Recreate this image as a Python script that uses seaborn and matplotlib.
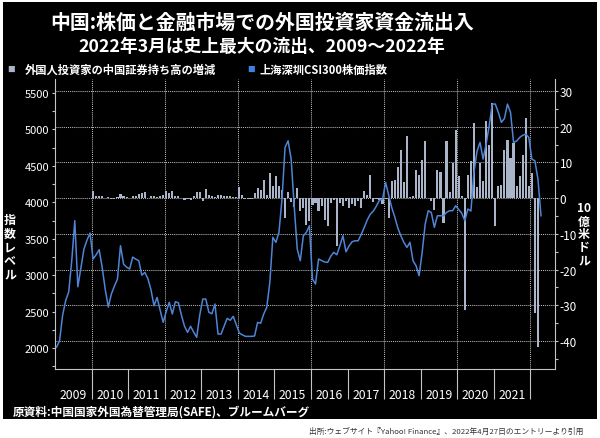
import numpy as np
import pandas as pd
import matplotlib
matplotlib.use('Agg')
import matplotlib.pyplot as plt
import seaborn as sns
from matplotlib.patches import Rectangle
from matplotlib.ticker import MultipleLocator

# CSI300 monthly level, Jan 2009 - Apr 2022
csi300 = [2010, 2100, 2450, 2650, 2770, 3200, 3747, 2840, 3100, 3358, 3480, 3578,
          3221, 3280, 3350, 3100, 2800, 2562, 2741, 2850, 2946, 3404, 3152, 3110,
          3084, 3248, 3220, 3198, 3000, 3038, 2950, 2800, 2580, 2695, 2520, 2352,
          2500, 2627, 2467, 2635, 2620, 2450, 2300, 2215, 2298, 2220, 2147, 2450,
          2672, 2672, 2490, 2470, 2604, 2192, 2192, 2300, 2407, 2380, 2435, 2320,
          2206, 2180, 2160, 2160, 2160, 2165, 2352, 2340, 2467, 2558, 2900, 3519,
          3450, 3587, 4044, 4753, 4844, 4593, 3952, 3358, 3198, 3541, 3587, 3678,
          2947, 2878, 3221, 3200, 3180, 3175, 3260, 3313, 3280, 3404, 3541, 3321,
          3400, 3458, 3472, 3472, 3560, 3656, 3760, 3838, 3880, 3950, 4030, 4040,
          4272, 4100, 3930, 3800, 3650, 3541, 3450, 3381, 3450, 3198, 3129, 2992,
          3313, 3701, 3884, 3860, 3656, 3815, 3815, 3815, 3861, 3884, 3884, 3952,
          3900, 3850, 3747, 3907, 3880, 4409, 4700, 4822, 4593, 4799, 5050, 5348,
          5348, 5234, 5097, 5150, 5348, 5234, 4822, 4840, 4890, 4920, 4936, 4890,
          4593, 4570, 4319, 3815]

# foreign holdings change (bn USD), Jan 2010 - Mar 2022
flows = [2.0, 0.5, 0.5, 0.5, 0.1, 0.2, -0.3, -0.2, 0.3, 1.1, 0.5, 0.3,
         0.1, 0.5, 0.7, 1.1, 1.4, 1.7, 0.1, 0.6, 0.7, 0.3, 0.5, 1.0,
         2.1, 1.4, 2.1, 0.6, 0.5, 0.1, -0.6, -0.3, -0.6, 0.5, 1.8, 1.8,
         -0.9, 2.5, 0.9, 0.6, 0.3, 0.8, 0.8, 0.5, 0.5, 0.6, 0.3, 0.3,
         3.0, 0.9, -0.1, -0.3, -0.1, 1.5, 2.8, 2.3, 5.1, 0.9, 7.0, 3.5,
         6.3, 3.5, 2.3, -5.5, 1.6, -1.0, -2.5, 2.8, -3.5, -2.8, -7.5, -6.5,
         -1.9, -1.4, -3.7, -2.3, -6.1, -7.9, -1.4, -0.5, -13.4, -1.4, -2.1, -0.9,
         -2.8, -1.6, -2.1, -0.9, -2.8, 1.9, 0.9, 6.4, -1.2, -0.3, -0.6, -1.6,
         -0.3, -5.6, 4.9, 5.1, 8.7, 13.4, 4.4, 17.5, 0.2, 0.5, 7.8, 6.5,
         10.7, 15.9, 0.1, -0.9, -3.3, 7.9, 7.3, -7.0, 15.9, 1.6, 9.8, 19.2,
         6.1, 0.7, -31.3, 6.5, 10.3, 21.0, 3.1, 9.8, 4.7, 21.5, 15.0, 26.6,
         -7.8, 3.3, 3.7, 13.6, 16.4, 11.2, 15.4, 3.3, 6.1, 12.1, 22.4, 3.3,
         7.0, -32.2, -41.6]

year_labels = [str(y) for y in range(2009, 2022)]
year_bounds = list(range(2010, 2023))
grid_years = [2010, 2012, 2014, 2016, 2018, 2020, 2022]
left_ticks = [2000, 2500, 3000, 3500, 4000, 4500, 5000, 5500]
right_ticks = [-40, -30, -20, -10, 0, 10, 20, 30]

title = '中国:株価と金融市場での外国投資家資金流出入'
subtitle = '2022年3月は史上最大の流出、2009～2022年'
leg_bar = '外国人投資家の中国証券持ち高の増減'
leg_line = '上海深圳CSI300株価指数'

line_c = '#4f84d6'
bar_c = '#aab5ca'
spine_c = '#c4c4c4'
grid_c = '#b8b8b8'

plt.rcParams['font.family'] = ['Noto Sans CJK JP', 'DejaVu Sans']

month_pos = [d.year + (d.month - 0.5) / 12
             for d in pd.date_range('2009-01-01', periods=len(csi300), freq='MS')]
flow_pos = [d.year + (d.month - 0.5) / 12
            for d in pd.date_range('2010-01-01', periods=len(flows), freq='MS')]

fig = plt.figure(figsize=(6.0, 4.39), dpi=100)
fig.patch.set_facecolor('white')
fig.patches.append(Rectangle((3 / 600, 19 / 439), 594 / 600, 417 / 439,
                             transform=fig.transFigure, facecolor='black',
                             edgecolor='none', zorder=-10))

ax = fig.add_axes([55 / 600, 69 / 439, 500 / 600, 290 / 439])
ax.set_facecolor('black')
ax2 = ax.twinx()
ax2.patch.set_visible(False)

# bars on the first axes (right scale), line on top (left scale)
sns.barplot(x=flow_pos, y=flows, native_scale=True, width=0.7, color=bar_c,
            saturation=1, errorbar=None, ax=ax, orient='x', linewidth=0, zorder=2)
sns.lineplot(x=month_pos, y=csi300, ax=ax2, color=line_c, linewidth=1.1, zorder=3)

ax.set_xlim(2009.0, 2022.675)
ax.set_ylim(-47.84, 33.36)
ax2.set_ylim(1712, 5692)
ax.set_xlabel('')
ax.set_ylabel('')
ax2.set_xlabel('')
ax2.set_ylabel('')

# y axes
ax.yaxis.tick_right()
ax.set_yticks(right_ticks)
ax.set_yticklabels([str(t) for t in right_ticks])
ax.yaxis.set_minor_locator(MultipleLocator(5))
ax.tick_params(axis='y', which='both', colors=spine_c, labelcolor='white',
               labelsize=8.5, length=2, width=0.8, pad=1.5)

ax2.yaxis.tick_left()
ax2.set_yticks(left_ticks)
ax2.set_yticklabels([str(t) for t in left_ticks])
ax2.yaxis.set_minor_locator(MultipleLocator(250))
ax2.tick_params(axis='y', which='both', colors=spine_c, labelcolor='white',
                labelsize=8, length=2.5, width=0.8, pad=1.5)

# x axis: long separators at year starts, labels in between
ax.set_xticks(year_bounds)
ax.set_xticklabels([])
ax.set_xticks([y + 0.5 for y in range(2009, 2022)], minor=True)
ax.set_xticklabels(year_labels, minor=True)
ax.tick_params(axis='x', which='major', length=21.6, width=0.8, color=spine_c)
ax.tick_params(axis='x', which='minor', length=0, pad=14, labelsize=8.8,
               labelcolor='white')

# dotted grid following the right-hand scale, verticals every two years
ax.xaxis.grid(False)
ax.yaxis.grid(False)
for t in right_ticks:
    ax.axhline(t, linestyle=(0, (1, 1)), color=grid_c, linewidth=0.75, zorder=1)
for yr in grid_years:
    ax.axvline(yr, linestyle=(0, (1, 1)), color=grid_c, linewidth=0.75, zorder=1)

for side in ['left', 'right', 'bottom']:
    ax.spines[side].set_color(spine_c)
    ax.spines[side].set_linewidth(0.8)
ax.spines['top'].set_visible(False)
for side in ax2.spines:
    ax2.spines[side].set_visible(False)

# titles and labels
fig.text(262 / 600, 1 - 22 / 439, title, ha='center', va='center',
         fontsize=14.3, fontweight='bold', color='white')
fig.text(262 / 600, 1 - 47 / 439, subtitle, ha='center', va='center',
         fontsize=12.8, fontweight='bold', color='white')

fig.text(11.5 / 600, 1 - 70 / 439, '■', ha='center', va='center', fontsize=5.5, color=bar_c)
fig.text(25 / 600, 1 - 70 / 439, leg_bar, ha='left', va='center',
         fontsize=8.1, fontweight='bold', color='white')
fig.text(251.5 / 600, 1 - 70 / 439, '■', ha='center', va='center', fontsize=5.5, color='#3f80e4')
fig.text(260 / 600, 1 - 70 / 439, leg_line, ha='left', va='center',
         fontsize=8.1, fontweight='bold', color='white')

fig.text(10 / 600, 1 - 248 / 439, '指\n数\nレ\nベ\nル', ha='center', va='center',
         fontsize=8.6, fontweight='bold', color='white', linespacing=1.05)
fig.text(584 / 600, 1 - 235 / 439, '10\n億\n米\nド\nル', ha='center', va='center',
         fontsize=8.6, fontweight='bold', color='white', linespacing=1.0)

fig.text(13 / 600, 1 - 412 / 439, '原資料:中国国家外国為替管理局(SAFE)、ブルームバーグ',
         ha='left', va='center', fontsize=8.4, fontweight='bold', color='white')
fig.text(583 / 600, 1 - 432 / 439,
         '出所:ウェブサイト『Yahoo! Finance』、2022年4月27日のエントリーより引用',
         ha='right', va='center', fontsize=5.6, color='#333333')

fig.savefig('out.png', dpi=100, facecolor='white')
